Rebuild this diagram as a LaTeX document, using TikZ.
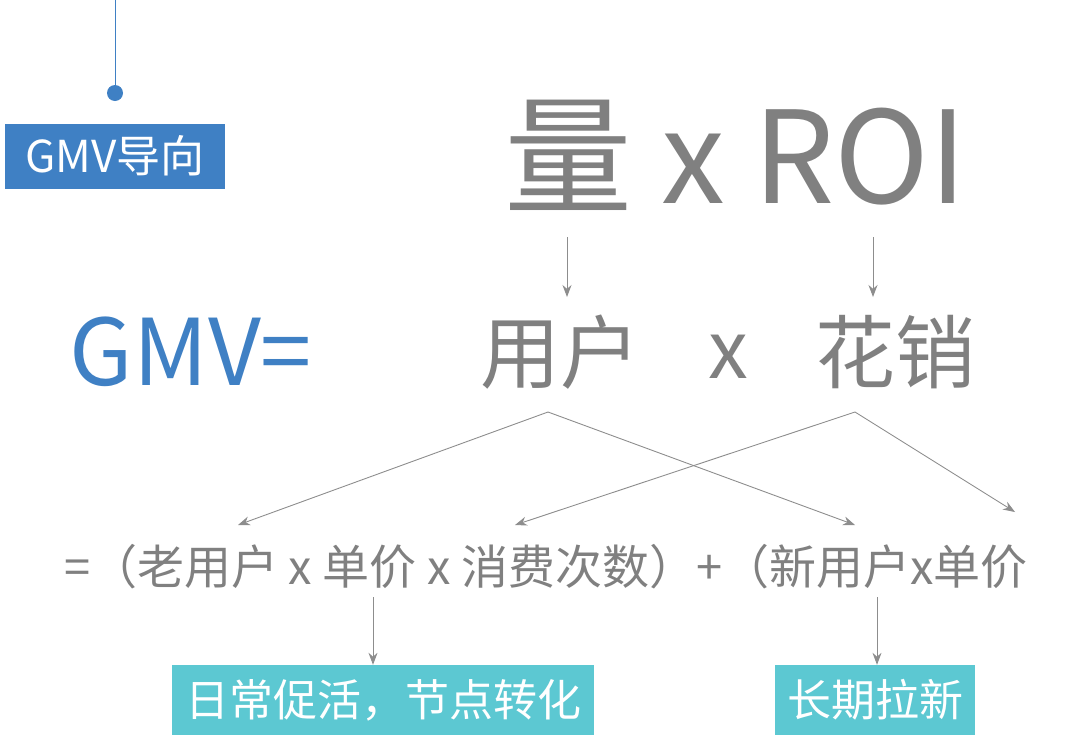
\documentclass[tikz,border=0pt]{standalone}
\usepackage{fontspec}
\setmainfont{Noto Sans CJK SC}
\usetikzlibrary{arrows.meta}
\definecolor{blu}{HTML}{3F80C4}
\definecolor{gry}{HTML}{808080}
\definecolor{cya}{HTML}{5CC8D2}
\begin{document}
\begin{tikzpicture}[x=1pt,y=-1pt,
  arr/.style={draw=gry!90,line width=0.9pt,-{Stealth[length=12pt,width=9pt]}},
  big/.style={text=gry,font=\fontsize{80}{80}\selectfont,inner sep=0},
  mid/.style={text=gry,font=\fontsize{47}{47}\selectfont,inner sep=0},
  tag/.style={fill=cya,text=white,font=\fontsize{44}{44}\selectfont,inner sep=0,minimum height=70pt}]
\useasboundingbox (0,0) rectangle (1070,742);
\coordinate (top) at (115,0);
\node[circle,fill=blu,minimum size=16pt,inner sep=0] (dot) at (115,93) {};
\draw[blu,line width=1pt] (top) -- (dot);
\node[fill=blu,text=white,font=\fontsize{44}{44}\selectfont,minimum width=220pt,minimum height=65pt,inner sep=0] (g) at (115,156) {GMV导向};
\node[text=gry,font=\fontsize{128}{128}\selectfont,inner sep=0] (q) at (736,155) {量 x ROI};
\coordinate (qa) at (567,237); \coordinate (qb) at (873,237);
\node[text=blu,font=\fontsize{92}{92}\selectfont,inner sep=0] (gmv) at (191,352) {GMV=};
\node[big] (yh) at (560,352) {用户};
\node[big] (x) at (728,357) {x};
\node[big] (hx) at (895,352) {花销};
\coordinate (ya) at (567,297); \coordinate (hb) at (873,297);
\draw[arr] (qa) -- (ya); \draw[arr] (qb) -- (hb);
\node[mid,anchor=west] (f) at (64,567) {=（老用户 x 单价 x 消费次数）+（新用户x单价};
\coordinate (ys) at (548,412); \coordinate (hs) at (855,412);
\coordinate (t1) at (238,525); \coordinate (t2) at (855,525);
\coordinate (t3) at (515,525); \coordinate (t4) at (1015,512);
\draw[arr] (ys) -- (t1); \draw[arr] (ys) -- (t2);
\draw[arr] (hs) -- (t3); \draw[arr] (hs) -- (t4);
\node[tag,minimum width=422pt] (b1) at (383,700) {日常促活，节点转化};
\node[tag,minimum width=200pt] (b2) at (875,700) {长期拉新};
\coordinate (s1) at (373,597); \coordinate (s2) at (877,597);
\draw[arr] (s1) -- (b1.north -| s1); \draw[arr] (s2) -- (b2.north -| s2);
\end{tikzpicture}
\end{document}
